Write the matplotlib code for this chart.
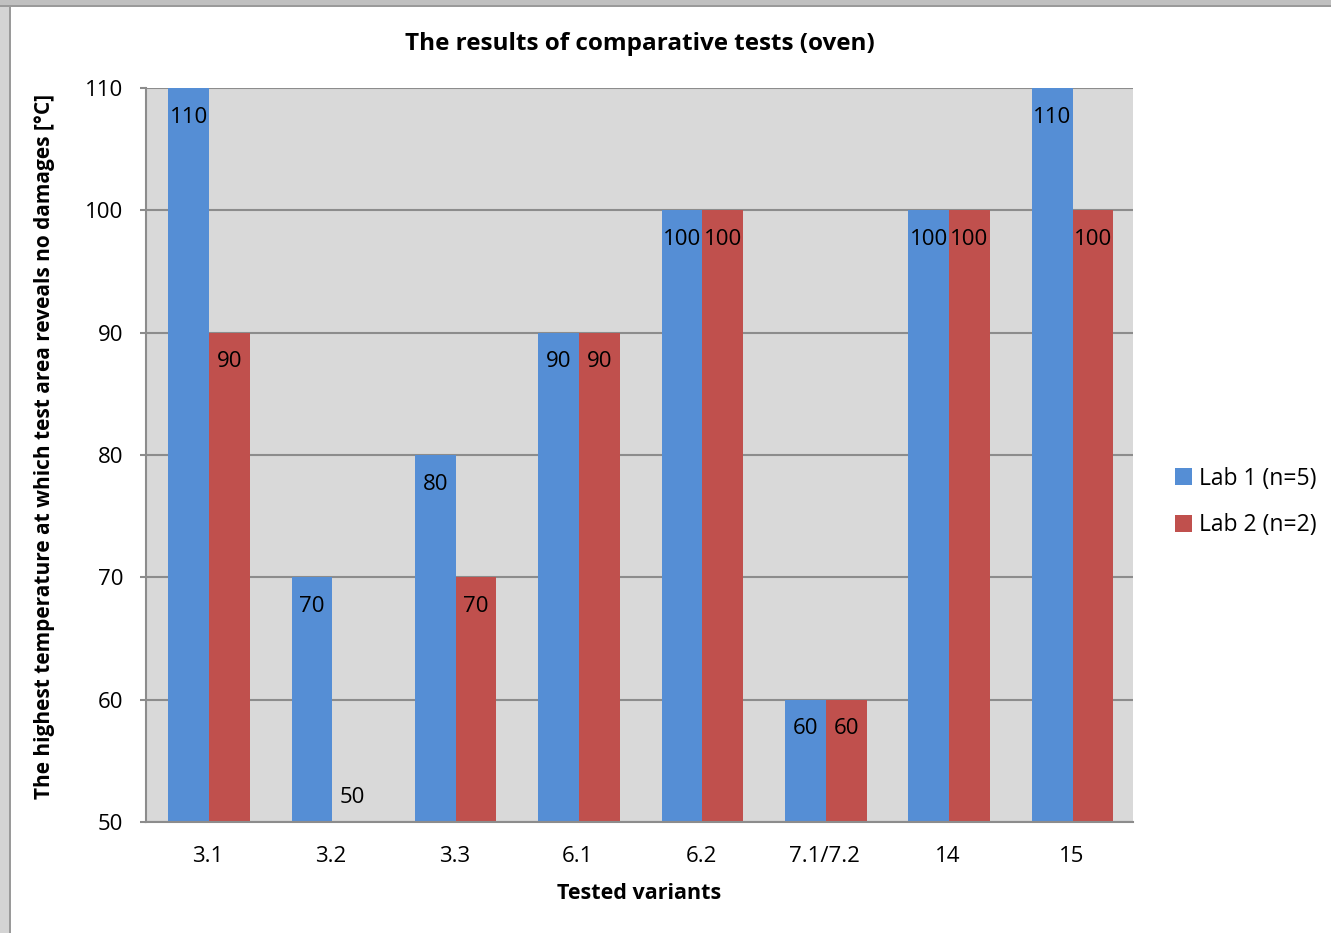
import numpy as np
import matplotlib
matplotlib.use("Agg")
import matplotlib.pyplot as plt
from matplotlib.patches import Rectangle

variants = ['3.1', '3.2', '3.3', '6.1', '6.2', '7.1/7.2', '14', '15']
lab1 = [110, 70, 80, 90, 100, 60, 100, 110]
lab2 = [90, 50, 70, 90, 100, 60, 100, 100]
series_names = ['Lab 1 (n=5)', 'Lab 2 (n=2)']
yticks = [50, 60, 70, 80, 90, 100, 110]

plt.rcParams['font.family'] = ['Open Sans', 'DejaVu Sans']

W, H = 1331, 933
fig = plt.figure(figsize=(W / 100, H / 100), dpi=100, facecolor='#d4d4d4')
# white chart sheet with a grey window frame on the left and top
frame = [((11 / W, 0), 1 - 11 / W, 1 - 7 / H, 'white'),
         ((9 / W, 0), 2 / W, 1, '#9a9a9a'),
         ((0, 1 - 7 / H), 1, 2 / H, '#9a9a9a'),
         ((0, 1 - 5 / H), 1, 5 / H, '#c0c0c0')]
for xy, fw, fh, fc in frame:
    fig.patches.append(Rectangle(xy, fw, fh, transform=fig.transFigure,
                                 facecolor=fc, edgecolor='none', zorder=-10))

ax = fig.add_axes([146 / W, 1 - 822 / H, (1133 - 146) / W, (822 - 88) / H])
ax.set_facecolor('#d9d9d9')

x = np.arange(len(variants))
w = 0.33
b1 = ax.bar(x - w / 2 + 0.01, np.array(lab1) - 50, w, bottom=50, color='#558ed5', label=series_names[0], zorder=2)
b2 = ax.bar(x + w / 2 + 0.01, np.array(lab2) - 50, w, bottom=50, color='#c0504d', label=series_names[1], zorder=2)

for bars, vals in [(b1, lab1), (b2, lab2)]:
    for bar, v in zip(bars, vals):
        cx = bar.get_x() + bar.get_width() / 2
        off = -29 if v > 50 else 25
        ax.annotate(str(v), (cx, v), xytext=(0, off), textcoords='offset pixels',
                    ha='center', va='center', fontsize=16, color='black', zorder=3)

ax.set_ylim(50, 110)
ax.set_xlim(-0.5, len(variants) - 0.5)
ax.set_yticks(yticks)
ax.yaxis.grid(True, color='#8c8c8c', linewidth=1.5, zorder=1)
ax.set_axisbelow(True)
ax.set_xticks(x)
ax.set_xticklabels(variants)
ax.tick_params(axis='x', length=0, pad=17, labelsize=16)
ax.tick_params(axis='y', length=4.3, width=1.5, color='#8c8c8c', pad=12, labelsize=16)
for s in ['top', 'right']:
    ax.spines[s].set_visible(False)
for s in ['left', 'bottom']:
    ax.spines[s].set_color('#8c8c8c')
    ax.spines[s].set_linewidth(1.5)

ax.set_title('The results of comparative tests (oven)', fontsize=17.5, fontweight='bold', pad=27)
ax.set_xlabel('Tested variants', fontsize=15.5, fontweight='bold', labelpad=12)
ax.set_ylabel('The highest temperature at which test area reveals no damages [°C]',
              fontsize=15, fontweight='bold')
ax.yaxis.set_label_coords(-0.092, 0.512)

leg = fig.legend(handles=[b1, b2], labels=series_names, loc='center left',
                 bbox_to_anchor=(1154 / W, 1 - 502 / H), frameon=False, fontsize=16.5,
                 handlelength=0.75, handleheight=0.75, handletextpad=0.3, labelspacing=1.0)

fig.savefig('out.png', dpi=100, facecolor=fig.get_facecolor())
